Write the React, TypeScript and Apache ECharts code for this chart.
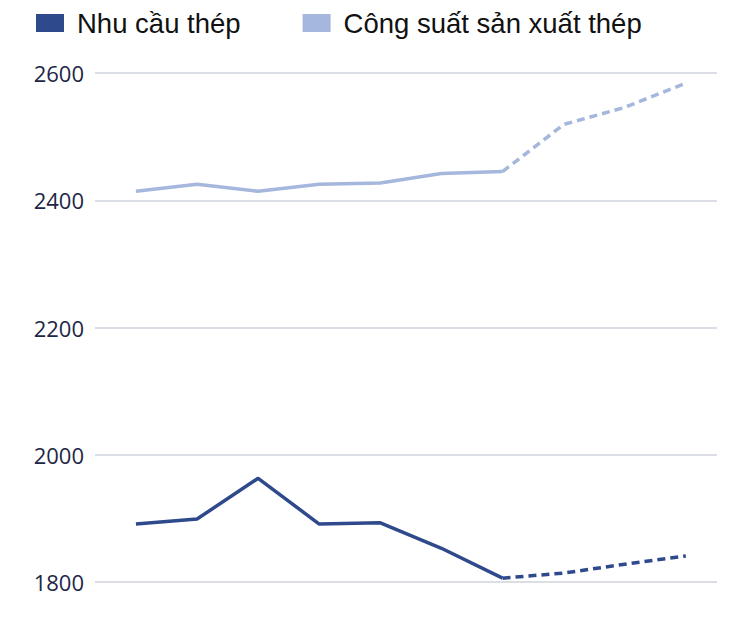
import * as echarts from 'echarts';
import React, { useEffect, useRef } from 'react';

// 10 periods, the last ones are forecasts (dashed)
const periods = [0, 1, 2, 3, 4, 5, 6, 7, 8, 9];
const demand = [1891, 1899, 1963, 1891, 1893, 1853, 1806, 1814, 1828, 1841];
const capacity = [2414, 2425, 2414, 2425, 2427, 2442, 2445, 2519, 2546, 2584];
const forecastFrom = 6;
const yTicks = [1800, 2000, 2200, 2400, 2600];

const DEMAND_NAME = 'Nhu cầu thép';
const CAPACITY_NAME = 'Công suất sản xuất thép';
const DARK = '#2f4a8c';
const LIGHT = '#a5b7dc';

const part = (vals: number[], solid: boolean) =>
  periods.map((p, i) => {
    const keep = solid ? i <= forecastFrom : i >= forecastFrom;
    return [p, keep ? vals[i] : null];
  });

const App: React.FC = () => {
  const chartRef = useRef<HTMLDivElement>(null);

  useEffect(() => {
    const myChart = echarts.init(chartRef.current!, null, { renderer: 'svg' });

    const option = {
      animation: false,
      color: [DARK, LIGHT],
      legend: {
        data: [DEMAND_NAME, CAPACITY_NAME],
        left: 28,
        top: 1,
        padding: 0,
        icon: 'rect',
        itemWidth: 28,
        itemHeight: 18,
        itemGap: 62,
        textStyle: {
          fontFamily: 'Liberation Sans',
          fontSize: 27.5,
          color: '#111',
          padding: [0, 0, 0, 8],
        },
      },
      grid: { left: 87, right: 19, top: 65, bottom: 46 },
      xAxis: {
        type: 'value',
        min: -0.67,
        max: 9.51,
        show: false,
      },
      yAxis: {
        type: 'value',
        min: yTicks[0],
        max: yTicks[yTicks.length - 1],
        interval: 200,
        axisLine: { show: false },
        axisTick: { show: false },
        axisLabel: {
          formatter: (v: number) => String(v),
          fontFamily: 'Open Sans',
          fontSize: 22,
          color: '#1d2645',
          margin: 11,
        },
        splitLine: { lineStyle: { color: '#cfd3dd', width: 1.5 } },
      },
      series: [
        {
          name: DEMAND_NAME,
          type: 'line',
          data: part(demand, true),
          showSymbol: false,
          lineStyle: { width: 3.5, color: DARK },
          itemStyle: { color: DARK },
        },
        {
          name: DEMAND_NAME,
          type: 'line',
          data: part(demand, false),
          showSymbol: false,
          lineStyle: { width: 3.5, color: DARK, type: [8, 5] },
          itemStyle: { color: DARK },
        },
        {
          name: CAPACITY_NAME,
          type: 'line',
          data: part(capacity, true),
          showSymbol: false,
          lineStyle: { width: 3.5, color: LIGHT },
          itemStyle: { color: LIGHT },
        },
        {
          name: CAPACITY_NAME,
          type: 'line',
          data: part(capacity, false),
          showSymbol: false,
          lineStyle: { width: 3.5, color: LIGHT, type: [8, 5] },
          itemStyle: { color: LIGHT },
        },
      ],
    };

    myChart.setOption(option);

    return () => {
      myChart.dispose();
    };
  }, []);

  return <div ref={chartRef} style={{ width: '728px', height: '620px' }} />;
};

export default App;
